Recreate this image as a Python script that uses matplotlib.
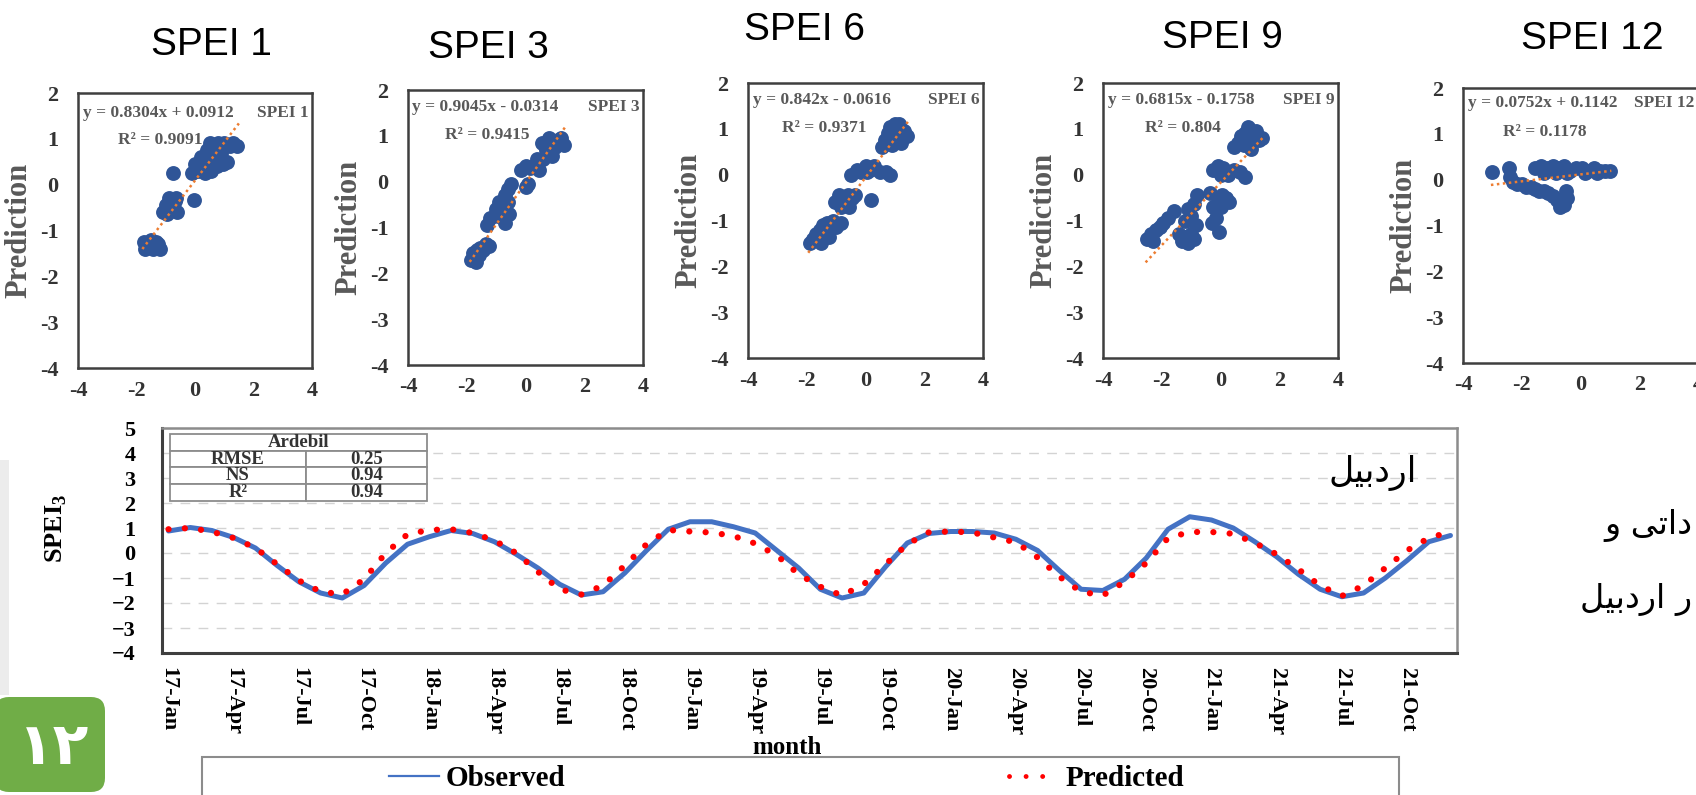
import numpy as np
import matplotlib
matplotlib.use("Agg")
import matplotlib.pyplot as plt
from matplotlib.lines import Line2D
from matplotlib.patches import Rectangle, FancyBboxPatch

plt.rcParams['font.family'] = 'Liberation Serif'
plt.rcParams['mathtext.fontset'] = 'custom'
plt.rcParams['mathtext.rm'] = 'Liberation Serif'
plt.rcParams['mathtext.bf'] = 'Liberation Serif:bold'

W, H = 1696, 795

# ---------------- data: scatter panels ----------------
panel_names = ['SPEI 1', 'SPEI 3', 'SPEI 6', 'SPEI 9', 'SPEI 12']
slopes = [0.8304, 0.9045, 0.842, 0.6815, 0.0752]
intercepts = [0.0912, -0.0314, -0.0616, -0.1758, 0.1142]
r2_values = [0.9091, 0.9415, 0.9371, 0.804, 0.1178]

spei1_x = [-1.75, -1.7, -1.65, -1.6, -1.5, -1.45, -1.35, -1.25, -1.2,
           -1.1, -1.0, -0.95, -0.9, -0.8, -0.7, -0.65, -0.6, -0.05, -0.75,
           -0.1, 0.0, 0.1, 0.2, 0.3, 0.35, 0.4, 0.5, 0.55, 0.6, 0.7, 0.75,
           0.8, 0.9, 0.95, 1.0, 1.1, 1.2, 1.3, 1.45]
spei1_y = [-1.25, -1.4, -1.35, -1.3, -1.2, -1.4, -1.25, -1.3, -1.4,
           -0.6, -0.45, -0.65, -0.3, -0.55, -0.35, -0.3, -0.6, -0.33, 0.25,
           0.25, 0.45, 0.3, 0.6, 0.45, 0.25, 0.75, 0.9, 0.3, 0.85, 0.6, 0.4,
           0.9, 0.7, 0.45, 0.9, 0.5, 0.85, 0.9, 0.85]

spei3_x = [-1.85, -1.8, -1.7, -1.65, -1.6, -1.55, -1.45, -1.35, -1.25,
           -1.3, -1.2, -1.0, -0.95, -0.9, -0.8, -0.7, -0.7, -0.6, -0.6, -0.55, -0.5,
           0.0, 0.1,
           -0.15, 0.0, 0.15, 0.3, 0.4, 0.45, 0.55, 0.6, 0.7, 0.8, 0.9, 0.9,
           1.0, 1.1, 1.2, 1.3]
spei3_y = [-1.7, -1.55, -1.75, -1.5, -1.6, -1.45, -1.5, -1.35, -1.4,
           -0.95, -0.8, -0.6, -0.75, -0.45, -0.5, -0.3, -0.9, -0.15, -0.45, -0.7, -0.05,
           -0.12, -0.05,
           0.25, 0.35, 0.3, 0.35, 0.5, 0.25, 0.85, 0.5, 0.7, 0.95, 0.85, 0.55,
           0.75, 0.9, 0.95, 0.8]

spei6_x = [-1.9, -1.8, -1.7, -1.6, -1.55, -1.5, -1.45, -1.35, -1.3, -1.25, -1.2, -1.1, -1.0, -0.85,
           -1.05, -0.9, -0.85, -0.75, -0.6, -0.55, -0.45, -0.35,
           0.2,
           -0.5, -0.3, -0.15, 0.0, 0.05, 0.15, 0.3, 0.5, 0.7, 0.85,
           0.55, 0.65, 0.75, 0.85, 0.9, 0.95, 1.0, 1.1, 1.15, 1.2, 1.3, 1.4]
spei6_y = [-1.5, -1.4, -1.3, -1.45, -1.2, -1.5, -1.1, -1.3, -1.05, -1.35, -1.15, -1.0, -1.15, -1.05,
           -0.6, -0.45, -0.7, -0.55, -0.45, -0.7, -0.5, -0.45,
           -0.55,
           0.0, 0.1, 0.05, 0.2, 0.05, 0.1, 0.2, 0.05, 0.05, 0.0,
           0.6, 0.75, 0.9, 1.05, 0.65, 0.85, 1.1, 0.95, 1.1, 0.7, 0.95, 0.85]

spei9_x = [-2.5, -2.35, -2.3, -2.2, -2.05, -1.95, -1.8, -1.6,
           -1.4, -1.3, -1.2, -1.2, -1.1, -1.1, -1.0, -1.0, -0.9, -0.9, -0.85, -0.8,
           -0.35, -0.3, -0.25, -0.15, -0.1, -0.05, 0.0, 0.05, 0.2, 0.3,
           -0.25, -0.1, 0.0, 0.1, 0.25, 0.45, 0.65, 0.85,
           0.45, 0.6, 0.7, 0.8, 0.85, 0.95, 1.05, 1.1, 1.2, 1.3, 1.4]
spei9_y = [-1.4, -1.3, -1.45, -1.2, -1.15, -1.05, -0.95, -0.8,
           -1.3, -1.45, -1.35, -1.0, -1.5, -0.75, -1.3, -0.9, -1.4, -0.65, -1.1, -0.45,
           -0.4, -1.05, -0.7, -0.95, -0.5, -1.25, -0.7, -0.45, -0.5, -0.6,
           0.1, 0.2, 0.0, 0.15, 0.0, 0.1, 0.05, -0.05,
           0.6, 0.7, 0.85, 0.65, 0.9, 1.05, 0.55, 0.8, 0.95, 0.75, 0.8]

spei12_x = [-3.0, -2.45,
            -1.55, -1.35, -1.25, -1.15, -0.95, -0.85, -0.75, -0.55, -0.45, -0.35,
            -0.15, 0.05, 0.15, 0.25, 0.45, 0.55, 0.65, 0.85, 1.0,
            -2.4, -2.3, -2.15, -2.0, -1.85, -1.7, -1.55, -1.4, -1.25, -1.1,
            -0.95, -0.8, -0.7, -0.55, -0.45, -0.5]
spei12_y = [0.17, 0.25,
            0.25, 0.3, 0.15, 0.25, 0.3, 0.15, 0.25, 0.3, 0.15, 0.2,
            0.25, 0.25, 0.15, 0.2, 0.25, 0.15, 0.2, 0.2, 0.2,
            0.05, -0.05, -0.1, -0.1, -0.15, -0.15, -0.2, -0.25, -0.25, -0.3,
            -0.35, -0.45, -0.6, -0.55, -0.4, -0.25]

scatter_x = [spei1_x, spei3_x, spei6_x, spei9_x, spei12_x]
scatter_y = [spei1_y, spei3_y, spei6_y, spei9_y, spei12_y]

# ---------------- data: time series (Ardebil, SPEI3) ----------------
observed = [0.88, 1.02, 0.9, 0.62, 0.2, -0.5, -1.15, -1.6, -1.8, -1.3,
            -0.4, 0.35, 0.65, 0.9, 0.78, 0.45, -0.05, -0.6, -1.25, -1.68,
            -1.55, -0.8, 0.1, 0.95, 1.25, 1.25, 1.05, 0.8, 0.1, -0.6,
            -1.45, -1.8, -1.6, -0.55, 0.4, 0.78, 0.86, 0.86, 0.8, 0.55,
            0.1, -0.7, -1.45, -1.5, -1.05, -0.2, 0.95, 1.45, 1.32, 1.0,
            0.45, -0.15, -0.85, -1.45, -1.75, -1.6, -1.0, -0.3, 0.45, 0.7]
predicted = [0.95, 1.0, 0.85, 0.6, 0.2, -0.45, -1.1, -1.55, -1.65, -1.05,
             0.0, 0.75, 0.92, 0.95, 0.8, 0.5, 0.0, -0.75, -1.45, -1.66,
             -1.3, -0.5, 0.35, 0.92, 0.86, 0.82, 0.68, 0.38, -0.1, -0.85,
             -1.35, -1.7, -1.25, -0.45, 0.35, 0.83, 0.86, 0.82, 0.62, 0.43,
             -0.18, -0.95, -1.55, -1.7, -1.15, -0.4, 0.6, 0.84, 0.84, 0.77,
             0.4, -0.05, -0.65, -1.3, -1.72, -1.3, -0.6, 0.1, 0.6, 0.85]
years = ['17', '18', '19', '20', '21']
quarters = ['Jan', 'Apr', 'Jul', 'Oct']
month_labels = [y + '-' + q for y in years for q in quarters]
table_rows = [['RMSE', '0.25'], ['NS', '0.94'], ['R²', '0.94']]

# persian text (logical order)
city_fa = 'اردبیل'
side_line1 = 'داتی و'
side_line2 = 'ر اردبیل'
badge_fa = '۱۲'

FORMS = {
    'ا': ('\uFE8D', '\uFE8E', None, None),
    'د': ('\uFEA9', '\uFEAA', None, None),
    'ذ': ('\uFEAB', '\uFEAC', None, None),
    'ر': ('\uFEAD', '\uFEAE', None, None),
    'و': ('\uFEED', '\uFEEE', None, None),
    'ب': ('\uFE8F', '\uFE90', '\uFE91', '\uFE92'),
    'ت': ('\uFE95', '\uFE96', '\uFE97', '\uFE98'),
    'ل': ('\uFEDD', '\uFEDE', '\uFEDF', '\uFEE0'),
    'ی': ('\uFBFC', '\uFBFD', '\uFBFE', '\uFBFF'),
    'ه': ('\uFEE9', '\uFEEA', '\uFEEB', '\uFEEC'),
}


def shape_rtl(text):
    # join arabic letters and put them in visual order
    def dual(c):
        return c in FORMS and FORMS[c][2] is not None
    out = []
    for i, c in enumerate(text):
        if c not in FORMS:
            out.append(c)
            continue
        p = i > 0 and dual(text[i - 1])
        n = dual(c) and i < len(text) - 1 and text[i + 1] in FORMS
        iso, fin, ini, med = FORMS[c]
        out.append(med if p and n else fin if p else ini if n else iso)
    return ''.join(reversed(out))


def box(x0, y0, x1, y1):
    return [x0 / W, 1 - y1 / H, (x1 - x0) / W, (y1 - y0) / H]


fig = plt.figure(figsize=(W / 100, H / 100), dpi=100)
fig.patch.set_facecolor('white')

# ---------------- top scatter panels ----------------
panel_boxes = [(78, 93, 312, 368), (408, 90, 643, 365), (748, 83, 983, 358),
               (1103, 83, 1338, 358), (1463, 88, 1698, 363)]
title_pos = [(211, 45), (488, 48), (805, 30), (1222, 38), (1592, 39)]
eq_pos = [(0.02, 0.927), (0.017, 0.938), (0.02, 0.938), (0.02, 0.938), (0.02, 0.945)]
r2_pos = [(0.17, 0.83), (0.157, 0.836), (0.145, 0.836), (0.18, 0.836), (0.17, 0.84)]

for i in range(5):
    ax = fig.add_axes(box(*panel_boxes[i]))
    x = np.array(scatter_x[i])
    y = np.array(scatter_y[i])
    ax.scatter(x, y, s=115, color='#2F5597', linewidths=0, zorder=3)
    xx = np.linspace(x.min() - 0.05, x.max() + 0.05, 50)
    ax.plot(xx, slopes[i] * xx + intercepts[i], color='#ED7D31', lw=1.8,
            ls=(0, (1, 1.4)), zorder=4)
    ax.set_xlim(-4, 4)
    ax.set_ylim(-4, 2)
    ax.set_xticks([-4, -2, 0, 2, 4])
    ax.set_xticklabels(['-4', '-2', '0', '2', '4'], fontsize=16, fontweight='bold', color='#333333')
    ax.set_yticks([-4, -3, -2, -1, 0, 1, 2])
    ax.set_yticklabels(['-4', '-3', '-2', '-1', '0', '1', '2'], fontsize=16, fontweight='bold', color='#333333')
    ax.tick_params(axis='x', length=0, pad=9)
    ax.tick_params(axis='y', length=0, pad=14)
    for sp in ax.spines.values():
        sp.set_color('#3f3f3f')
        sp.set_linewidth(1.8)
    ax.set_ylabel('Prediction', fontsize=22, fontweight='bold', color='#595959')
    ax.yaxis.set_label_coords(-0.19, 0.5)

    b = intercepts[i]
    eq = 'y = ' + str(slopes[i]) + 'x ' + ('+' if b >= 0 else '-') + ' ' + str(abs(b))
    ax.text(eq_pos[i][0], eq_pos[i][1], eq, transform=ax.transAxes, fontsize=12.5,
            fontweight='bold', color='#595959', ha='left', va='center')
    ax.text(0.985, eq_pos[i][1], panel_names[i], transform=ax.transAxes, fontsize=12.5,
            fontweight='bold', color='#595959', ha='right', va='center')
    ax.text(r2_pos[i][0], r2_pos[i][1], 'R² = ' + str(r2_values[i]), transform=ax.transAxes,
            fontsize=12.5, fontweight='bold', color='#595959', ha='left', va='center')

    fig.text(title_pos[i][0] / W, 1 - title_pos[i][1] / H, panel_names[i],
             family='Liberation Sans', fontsize=28, ha='center', va='center', color='black')

# ---------------- bottom time series ----------------
ax = fig.add_axes(box(162, 428, 1457, 653))
t = np.arange(len(observed))
ax.plot(t, observed, color='#4472C4', lw=3.6, solid_capstyle='round',
        solid_joinstyle='round', zorder=2)
ax.plot(t, predicted, color='#FF0000', lw=4.5, ls=(0, (0.01, 2.6)),
        dash_capstyle='round', zorder=3)
ax.set_xlim(-0.3, 59.3)
ax.set_ylim(-4, 5)
ax.set_xticks(t[::3])
ax.set_xticklabels(month_labels, rotation=270, fontsize=16, fontweight='bold')
ax.set_yticks(range(-4, 6))
ax.set_yticklabels([str(v).replace('-', '\u2212') for v in range(-4, 6)],
                   fontsize=16, fontweight='bold')
ax.tick_params(axis='x', length=0, pad=10)
ax.tick_params(axis='y', length=0, pad=19)
ax.set_axisbelow(True)
ax.yaxis.grid(True, color='#d3d3d3', lw=1.0, ls=(0, (7, 6)))
ax.spines['left'].set_color('#3f3f3f')
ax.spines['bottom'].set_color('#3f3f3f')
ax.spines['left'].set_linewidth(2.2)
ax.spines['bottom'].set_linewidth(2.2)
ax.spines['top'].set_color('#8c8c8c')
ax.spines['right'].set_color('#8c8c8c')
ax.spines['top'].set_linewidth(1.8)
ax.spines['right'].set_linewidth(1.8)

ax.set_ylabel(r'$\mathbf{SPEI}_\mathbf{3}$', fontsize=19)
ax.yaxis.set_label_coords(-0.072, 0.556)
ax.set_xlabel('month', fontsize=18, fontweight='bold')
ax.xaxis.set_label_coords(0.483, -0.369)

ax.text(0.969, 0.80, shape_rtl(city_fa), transform=ax.transAxes, family='DejaVu Sans',
        fontsize=25, ha='right', va='center', color='black')

head = ax.table(cellText=[['Ardebil']], cellLoc='center', bbox=[0.006, 0.899, 0.199, 0.0744])
body = ax.table(cellText=table_rows, cellLoc='center', colWidths=[0.53, 0.47],
                bbox=[0.006, 0.676, 0.199, 0.223])
for tbl in (head, body):
    tbl.auto_set_font_size(False)
    tbl.set_zorder(5)
    for cell in tbl.get_celld().values():
        cell.set_edgecolor('#8c8c8c')
        cell.set_linewidth(1.3)
        cell.set_facecolor('white')
        cell.get_text().set_fontsize(13.5)
        cell.get_text().set_fontweight('bold')
        cell.get_text().set_color('#333333')

# legend box below
frame = Rectangle((202 / W, -0.05), (1399 - 202) / W, (795 - 757) / H + 0.05,
                  transform=fig.transFigure, facecolor='white', edgecolor='#8c8c8c', lw=1.5)
fig.add_artist(frame)
handles = [Line2D([0], [0], color='#4472C4', lw=1.6),
           Line2D([0], [0], color='#FF0000', lw=3.5, ls=(0, (0.01, 3.4)), dash_capstyle='round')]
fig.legend(handles, ['Observed', 'Predicted'], loc='center left',
           bbox_to_anchor=(389 / W, 1 - 779 / H), ncol=2, frameon=False, borderpad=0,
           borderaxespad=0, handlelength=1.7, handletextpad=0.25, columnspacing=15.2,
           prop={'family': 'Liberation Serif', 'weight': 'bold', 'size': 21})

# page decorations around the chart
fig.add_artist(Rectangle((0, 1 - 695 / H), 9 / W, (695 - 460) / H, transform=fig.transFigure,
                         facecolor='#ececec', edgecolor='none'))
badge = FancyBboxPatch((-0.05, 0.03), 1.1, 0.95, boxstyle='round,pad=0,rounding_size=0.14',
                       transform=fig.dpi_scale_trans, facecolor='#70AD47', edgecolor='none')
fig.add_artist(badge)
fig.text(54 / W, 1 - 747 / H, badge_fa, family='DejaVu Sans', fontweight='bold', fontsize=42,
         color='white', ha='center', va='center')

fig.text(1692 / W, 1 - 526 / H, shape_rtl(side_line1), family='DejaVu Sans', fontsize=24,
         ha='right', va='center', color='black')
fig.text(1692 / W, 1 - 600 / H, shape_rtl(side_line2), family='DejaVu Sans', fontsize=24,
         ha='right', va='center', color='black')

fig.savefig('out.png', dpi=100, facecolor='white')
